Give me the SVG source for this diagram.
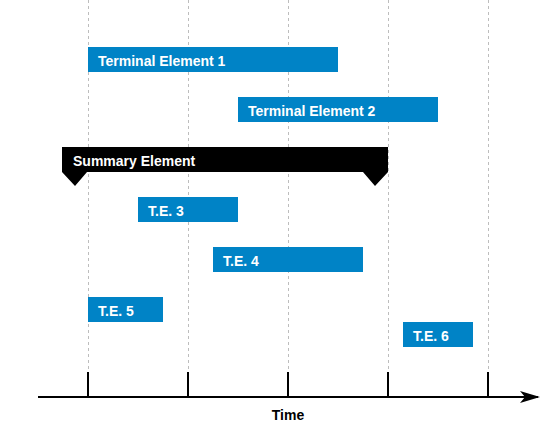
<svg xmlns="http://www.w3.org/2000/svg" width="558" height="431" viewBox="0 0 558 431">
<style>
.grid{stroke:#bdbdbd;stroke-width:1;stroke-dasharray:3 3;fill:none}
.bar{fill:#0083c6}
.lbl{font-family:"Liberation Sans",Arial,sans-serif;font-size:14px;font-weight:bold;fill:#ffffff}
.axis{stroke:#000;stroke-width:2;fill:none}
.time{font-family:"Liberation Sans",Arial,sans-serif;font-size:14px;font-weight:bold;fill:#000}
</style>
<defs>
<marker id="arr" markerWidth="20" markerHeight="12" refX="18" refY="6" orient="auto" markerUnits="userSpaceOnUse">
<path d="M0,0 L20,6 L0,12 L5,6 Z" fill="#000"/>
</marker>
</defs>
<rect width="558" height="431" fill="#fff"/>
<g id="gridlines">
<line class="grid" x1="88.5" y1="0" x2="88.5" y2="372"/>
<line class="grid" x1="188.5" y1="0" x2="188.5" y2="372"/>
<line class="grid" x1="288.5" y1="0" x2="288.5" y2="372"/>
<line class="grid" x1="388.5" y1="0" x2="388.5" y2="372"/>
<line class="grid" x1="488.5" y1="0" x2="488.5" y2="372"/>
</g>
<g id="te1"><rect class="bar" x="88" y="47" width="250" height="25"/><text class="lbl" x="98" y="66">Terminal Element 1</text></g>
<g id="te2"><rect class="bar" x="238" y="97" width="200" height="25"/><text class="lbl" x="248" y="116">Terminal Element 2</text></g>
<g id="summary"><path d="M62,147 H388 V172 L375,186 L363,172 H87 L75,186 L62,172 Z" fill="#000"/><text class="lbl" x="73" y="166">Summary Element</text></g>
<g id="te3"><rect class="bar" x="138" y="197" width="100" height="25"/><text class="lbl" x="148" y="216">T.E. 3</text></g>
<g id="te4"><rect class="bar" x="213" y="247" width="150" height="25"/><text class="lbl" x="223" y="266">T.E. 4</text></g>
<g id="te5"><rect class="bar" x="88" y="297" width="75" height="25"/><text class="lbl" x="98" y="316">T.E. 5</text></g>
<g id="te6"><rect class="bar" x="403" y="322" width="70" height="25"/><text class="lbl" x="413" y="341">T.E. 6</text></g>
<g id="connectors">
<line class="axis" x1="38" y1="397" x2="538" y2="397" marker-end="url(#arr)"/>
<line class="axis" x1="88" y1="372" x2="88" y2="397"/>
<line class="axis" x1="188" y1="372" x2="188" y2="397"/>
<line class="axis" x1="288" y1="372" x2="288" y2="397"/>
<line class="axis" x1="388" y1="372" x2="388" y2="397"/>
<line class="axis" x1="488" y1="372" x2="488" y2="397"/>
</g>
<g id="timelabel"><text class="time" x="288" y="420" text-anchor="middle">Time</text></g>
</svg>
